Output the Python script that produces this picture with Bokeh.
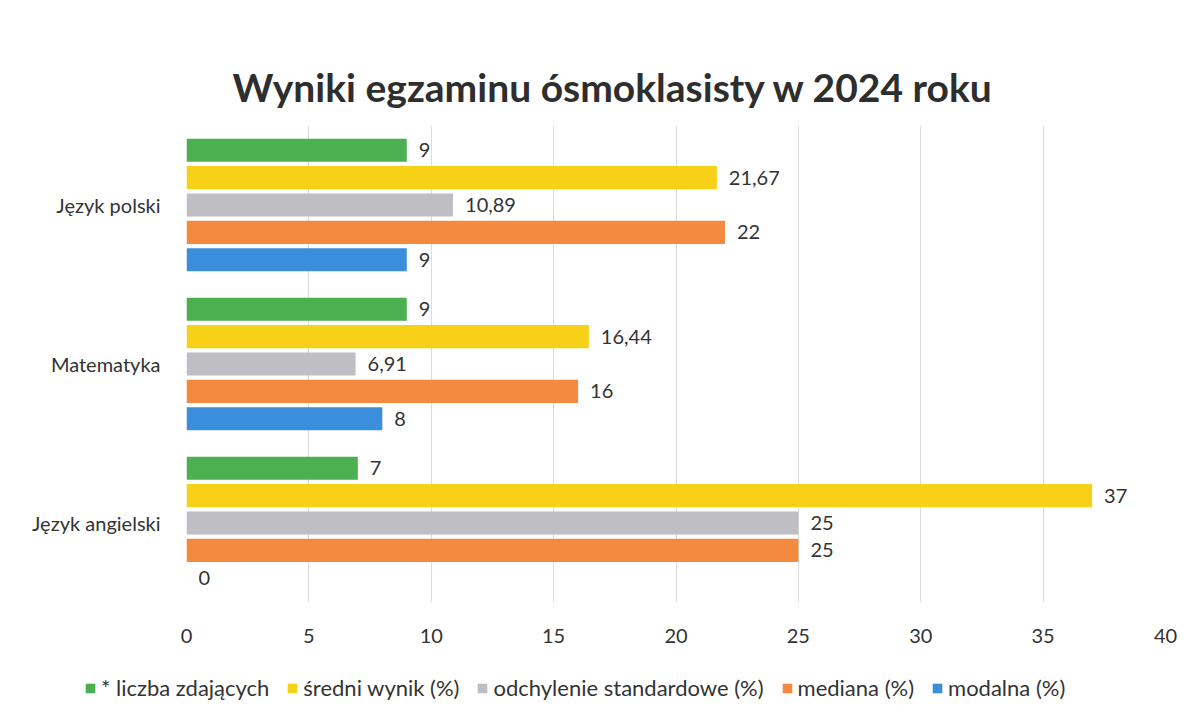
from bokeh.plotting import figure
from bokeh.models import ColumnDataSource, Legend, LegendItem, FixedTicker, Range1d
from bokeh.layouts import column, row
from bokeh.transform import dodge
from bokeh.embed import file_html
from bokeh.resources import INLINE
from bokeh.core.properties import value

categories = ["Język polski", "Matematyka", "Język angielski"]
series_names = ["* liczba zdających", "średni wynik (%)", "odchylenie standardowe (%)", "mediana (%)", "modalna (%)"]
liczba = [9, 9, 7]
sredni = [21.67, 16.44, 37]
odchylenie = [10.89, 6.91, 25]
mediana = [22, 16, 25]
modalna = [9, 8, 0]
colors = ["#4CAF50", "#F7D117", "#BEBEC4", "#F48A3F", "#3B8EDB"]
x_ticks = [0, 5, 10, 15, 20, 25, 30, 35, 40]

FONT = "Lato"
series_values = [liczba, sredni, odchylenie, mediana, modalna]
offsets = [0.344, 0.172, 0.0, -0.172, -0.344]

def fmt(v):
    s = ("%.2f" % v).rstrip("0").rstrip(".")
    return s.replace(".", ",")

p = figure(y_range=list(reversed(categories)), x_range=(0, 40),
           width=1185, height=645,
           output_backend="svg", toolbar_location=None,
           min_border_left=186, min_border_right=20, min_border_top=125,
           min_border_bottom=42,
           title="Wyniki egzaminu ósmoklasisty w 2024 roku")
p.title.align = "left"
p.title.text_font = FONT
p.title.text_font_size = "39px"
p.title.text_font_style = "bold"
p.title.text_color = "#2E2E2E"
p.title.offset = 46
p.title.standoff = 32

# legend strip below the chart
lg = figure(width=1185, height=68, x_range=Range1d(0, 1), y_range=Range1d(0, 1),
            output_backend="svg", toolbar_location=None,
            x_axis_type=None, y_axis_type=None,
            min_border_left=0, min_border_right=0, min_border_top=0, min_border_bottom=0)
lg.outline_line_color = None
lg.xgrid.grid_line_color = None
lg.ygrid.grid_line_color = None

items = []
for name, vals, col, off in zip(series_names, series_values, colors, offsets):
    src = ColumnDataSource(dict(cat=categories, val=vals, lab=[fmt(v) for v in vals]))
    p.hbar(y=dodge("cat", off, range=p.y_range), right="val", left=0, height=0.145,
           source=src, fill_color=col, line_color=None)
    p.text(x="val", y=dodge("cat", off, range=p.y_range), text="lab", source=src,
           x_offset=12, text_baseline="middle", text_font=value(FONT),
           text_font_size="20px", text_color="#333333")
    # off-range proxy bar so the legend strip can show a swatch
    r2 = lg.hbar(y=[0.5], right=[6], left=[5], height=0.2, fill_color=col, line_color=None)
    items.append(LegendItem(label=name, renderers=[r2]))

legend = Legend(items=items, orientation="horizontal", location=(84, 12),
                label_text_font=FONT, label_text_font_size="22px", label_text_color="#333333",
                glyph_width=12, glyph_height=12, spacing=17, border_line_color=None,
                padding=0, margin=0, label_standoff=5, background_fill_alpha=0)
lg.add_layout(legend)

p.xaxis.ticker = FixedTicker(ticks=x_ticks)
p.xaxis.axis_line_color = None
p.xaxis.major_tick_line_color = None
p.xaxis.minor_tick_line_color = None
p.xaxis.major_label_text_font = FONT
p.xaxis.major_label_text_font_size = "20px"
p.xaxis.major_label_text_color = "#333333"
p.xaxis.major_label_standoff = 20
p.yaxis.axis_line_color = None
p.yaxis.major_tick_line_color = None
p.yaxis.major_label_text_font = FONT
p.yaxis.major_label_text_font_size = "20px"
p.yaxis.major_label_text_color = "#333333"
p.yaxis.major_label_standoff = 20
p.ygrid.grid_line_color = None
p.xgrid.grid_line_color = "#DCDCDC"
p.outline_line_color = None

layout = column(p, row(lg), spacing=0)
open("out.html", "w").write(file_html(layout, INLINE))
